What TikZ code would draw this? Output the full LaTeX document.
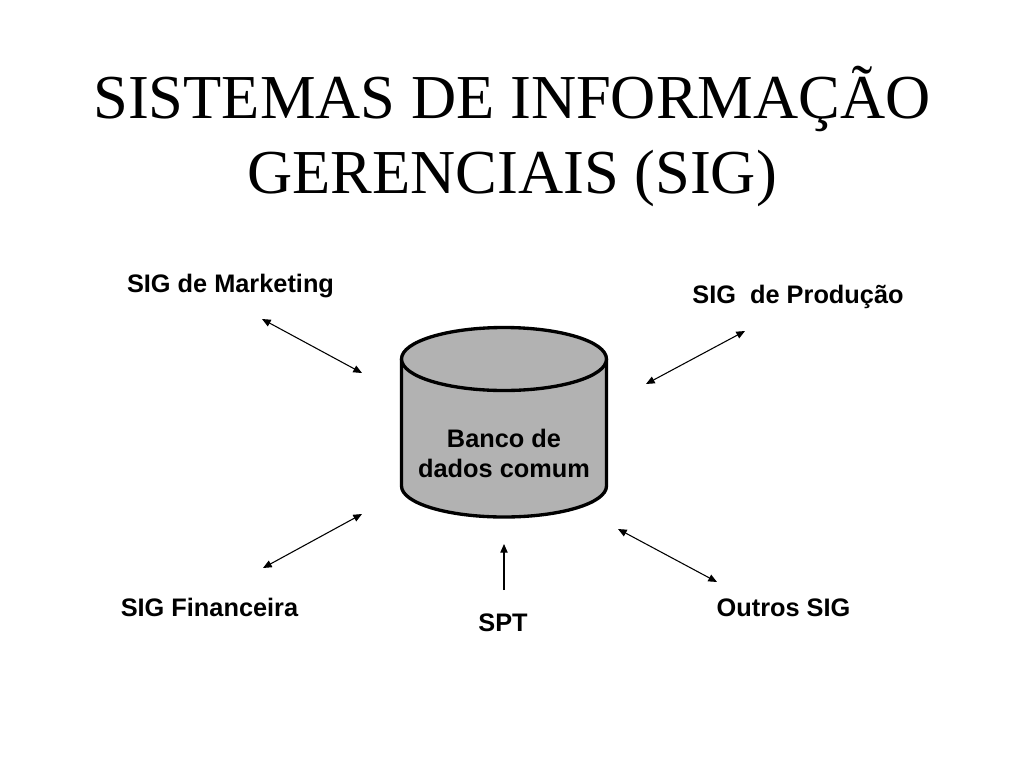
\documentclass[tikz,border=0pt]{standalone}
\usepackage{fontspec}
\setmainfont{Liberation Serif}
\newfontfamily\labelfont{Liberation Sans}
\usetikzlibrary{arrows.meta}
\definecolor{dbGray}{HTML}{B2B2B2}
\tikzset{
  >={Triangle[length=6.5pt,width=5.5pt]},
  titleText/.style={font=\fontsize{46.9}{56}\selectfont,align=center,inner sep=0pt},
  sigLabel/.style={font=\labelfont\bfseries\fontsize{19}{22.5}\selectfont,align=center,inner sep=0pt},
  dbLine/.style={draw=black,fill=dbGray,line width=2.5pt,line join=round},
  sigArrow/.style={<->,line width=0.8pt},
}
\begin{document}
\begin{tikzpicture}[x=0.75pt,y=-0.75pt]
\useasboundingbox (0,0) rectangle (1024,768);

% Title
\node[titleText] (title) at (512,136.5) {SISTEMAS DE INFORMAÇÃO\\GERENCIAIS (SIG)};

% Common database
\draw[dbLine] (401.5,359) -- (401.5,486) arc[start angle=180,end angle=0,x radius=102.5,y radius=31]
  -- (606.5,359);
\draw[dbLine] (504,359) ellipse[x radius=102.5,y radius=31.5];
\node[sigLabel] (dbText) at (504,453.5) {Banco de\\dados comum};

% Surrounding systems
\node[sigLabel] (mkt) at (230.5,286) {SIG de Marketing};
\node[sigLabel] (prod) at (798,297) {SIG\ \ de Produção};
\node[sigLabel] (fin) at (209.5,607.5) {SIG Financeira};
\node[sigLabel] (spt) at (503,623) {SPT};
\node[sigLabel] (other) at (783.5,608) {Outros SIG};

% Arrow ends
\coordinate (mktA) at (262,319);
\coordinate (mktB) at (362,373);
\coordinate (prodA) at (745,331);
\coordinate (prodB) at (646,384);
\coordinate (finA) at (263,568);
\coordinate (finB) at (362,514);
\coordinate (sptA) at (504,590);
\coordinate (sptB) at (504,544);
\coordinate (otherA) at (717,582);
\coordinate (otherB) at (618,529);

% Connections
\foreach \a in {mkt,prod,fin,other} {\draw[sigArrow] (\a A) -- (\a B);}
\draw[->,line width=0.8pt] (sptA) -- (sptB);

\end{tikzpicture}
\end{document}
